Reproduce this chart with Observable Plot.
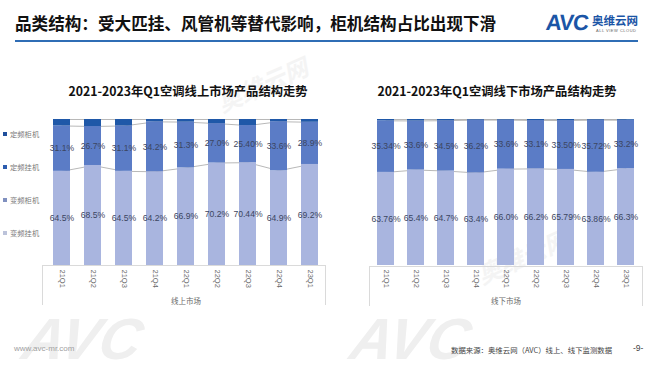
<!DOCTYPE html>
<html><head><meta charset="utf-8">
<script src="https://cdn.jsdelivr.net/npm/d3@7"></script>
<script src="https://cdn.jsdelivr.net/npm/@observablehq/plot@0.6"></script>
<style>
body{margin:0;width:660px;height:372px;position:relative;overflow:hidden;background:#fff;font-family:"Liberation Sans","Noto Sans CJK SC",sans-serif;}
.abs{position:absolute;white-space:nowrap;}
.wm{position:absolute;color:#efefef;font-weight:bold;font-style:italic;white-space:nowrap;z-index:0;line-height:1;}
.ctitle{position:absolute;font-family:"Noto Sans CJK SC",sans-serif;font-weight:bold;font-size:12.3px;color:#111;transform:translateX(-50%);white-space:nowrap;}
.leg{position:absolute;left:3px;font-family:"Noto Sans CJK SC",sans-serif;font-size:7.3px;color:#7a7a7a;line-height:10px;}
.leg i{display:inline-block;width:4px;height:4px;margin-right:3px;vertical-align:1px;}
.vl{position:absolute;width:0;border-left:1px solid #dadada;}
.hl{position:absolute;height:0;border-top:1px solid #dadada;}
.chart{position:absolute;top:100px;z-index:2;}
</style></head><body>

<div class="wm" style="left:24px;top:310px;font-size:58px;transform:skewX(-12deg);">AVC</div>
<div class="wm" style="left:352px;top:310px;font-size:58px;transform:skewX(-12deg);">AVC</div>
<div class="wm" style="left:215px;top:74px;font-size:24px;transform:rotate(-24deg);color:#f4f4f4;">奥维云网</div>
<div class="wm" style="left:475px;top:246px;font-size:24px;transform:rotate(-24deg);color:#f4f4f4;">奥维云网</div>

<div class="abs" style="left:15px;top:11px;font-family:'Noto Sans CJK SC';font-weight:bold;font-size:16.6px;color:#111;">品类结构：受大匹挂、风管机等替代影响，柜机结构占比出现下滑</div>
<div class="abs" style="left:15px;top:40px;width:623px;height:2px;background:#2f6db5;"></div>
<div class="abs" style="left:546px;top:10px;font-family:'Liberation Sans';font-weight:bold;font-size:22px;color:#1b55a6;letter-spacing:-1px;transform:skewX(-6deg);">AVC</div>
<div class="abs" style="left:592px;top:12px;font-family:'Noto Sans CJK SC';font-weight:bold;font-size:11.5px;color:#1b55a6;">奥维云网</div>
<div class="abs" style="left:596px;top:28px;font-family:'Liberation Sans';font-size:4px;color:#666;letter-spacing:0.5px;">ALL VIEW CLOUD</div>

<div class="ctitle" style="left:188px;top:82px;">2021-2023年Q1空调线上市场产品结构走势</div>
<div class="ctitle" style="left:497px;top:82px;">2021-2023年Q1空调线下市场产品结构走势</div>

<div class="leg" style="top:129px;"><i style="background:#1f4f9c"></i>定频柜机</div>
<div class="leg" style="top:162px;"><i style="background:#2c5cae"></i>定频挂机</div>
<div class="leg" style="top:195px;"><i style="background:#8090bf"></i>变频柜机</div>
<div class="leg" style="top:228px;"><i style="background:#bcc3da"></i>变频挂机</div>

<div class="hl" style="left:42px;top:265px;width:283px;"></div>
<div class="vl" style="left:42px;top:265px;height:40px;"></div>
<div class="vl" style="left:325px;top:265px;height:40px;"></div>
<div class="hl" style="left:369px;top:266px;width:273px;"></div>
<div class="vl" style="left:369px;top:266px;height:40px;"></div>
<div class="vl" style="left:642px;top:266px;height:40px;"></div>

<div id="c1" class="chart" style="left:0px;"></div>
<div id="c2" class="chart" style="left:330px;"></div>

<div class="abs" style="left:14px;top:344px;font-size:8px;color:#a0a0a0;z-index:3;">www.avc-mr.com</div>
<div class="abs" style="left:451px;top:344px;font-family:'Noto Sans CJK SC';font-size:7.4px;color:#444;z-index:3;">数据来源：奥维云网（AVC）线上、线下监测数据</div>
<div class="abs" style="left:633px;top:343px;font-size:8.5px;color:#444;z-index:3;">-9-</div>

<script>
const quarters = ["21Q1","21Q2","21Q3","21Q4","22Q1","22Q2","22Q3","22Q4","23Q1"];
const seriesNames = ["变频挂机","定频挂机","定频柜机"];
const seriesColors = ["#a9b5df","#5b7cc6","#1f58a8"];

const onlineBottom = ["64.5","68.5","64.5","64.2","66.9","70.2","70.44","64.9","69.2"];
const onlineMiddle = ["31.1","26.7","31.1","34.2","31.3","27.0","25.40","33.6","28.9"];
const onlineTop = [4.4, 4.8, 4.4, 1.6, 1.8, 2.8, 4.16, 1.5, 1.9];

const offlineBottom = ["63.76","65.4","64.7","63.4","66.0","66.2","65.79","63.86","66.3"];
const offlineMiddle = ["35.34","33.6","34.5","36.2","33.6","33.1","33.50","35.72","33.2"];
const offlineTop = [0.9, 1.0, 0.8, 0.4, 0.4, 0.7, 0.71, 0.42, 0.5];

function makeChart(bottom, middle, top, cfg) {
  const rows = quarters.flatMap((q, i) => [
    {q, s: seriesNames[0], v: +bottom[i]},
    {q, s: seriesNames[1], v: +middle[i]},
    {q, s: seriesNames[2], v: top[i]}
  ]);
  const bounds = quarters.flatMap((q, i) => [
    {q, k: 0, y: +bottom[i]},
    {q, k: 1, y: +bottom[i] + +middle[i]},
    {q, k: 2, y: +bottom[i] + +middle[i] + top[i]}
  ]);
  const labels = quarters.flatMap((q, i) => [
    {q, y: +bottom[i] / 2, t: bottom[i] + "%"},
    {q, y: +bottom[i] + +middle[i] / 2, t: middle[i] + "%"}
  ]);
  return Plot.plot({
    width: 330, height: 215,
    marginTop: 19, marginBottom: 50, marginLeft: cfg.ml, marginRight: cfg.mr,
    style: {background: "transparent", fontFamily: "'Liberation Sans','Noto Sans CJK SC',sans-serif", fontSize: "7.5px", color: "#6a6a6a"},
    x: {domain: quarters, paddingInner: cfg.pi, paddingOuter: cfg.po},
    y: {domain: [0, 100], axis: null},
    color: {domain: seriesNames, range: seriesColors},
    marks: [
      Plot.line(bounds, {x: "q", y: "y", z: "k", stroke: "#a6a6a6", strokeWidth: 0.8}),
      Plot.barY(rows, {x: "q", y: "v", fill: "s"}),
      Plot.text(labels, {x: "q", y: "y", text: "t", fill: "#3c4661", fontSize: 8.6}),
      Plot.axisX({tickSize: 0, tickRotate: 90, tickPadding: 4, fontSize: 7.5,
        label: cfg.label, labelAnchor: "center", labelOffset: 38, labelArrow: "none"})
    ]
  });
}

document.getElementById("c1").append(makeChart(onlineBottom, onlineMiddle, onlineTop,
  {ml: 44, mr: 3, pi: 0.46, po: 0.195, label: "线上市场"}));
document.getElementById("c2").append(makeChart(offlineBottom, offlineMiddle, offlineTop,
  {ml: 39, mr: 18, pi: 0.44, po: 0.22, label: "线下市场"}));
</script>
</body></html>
